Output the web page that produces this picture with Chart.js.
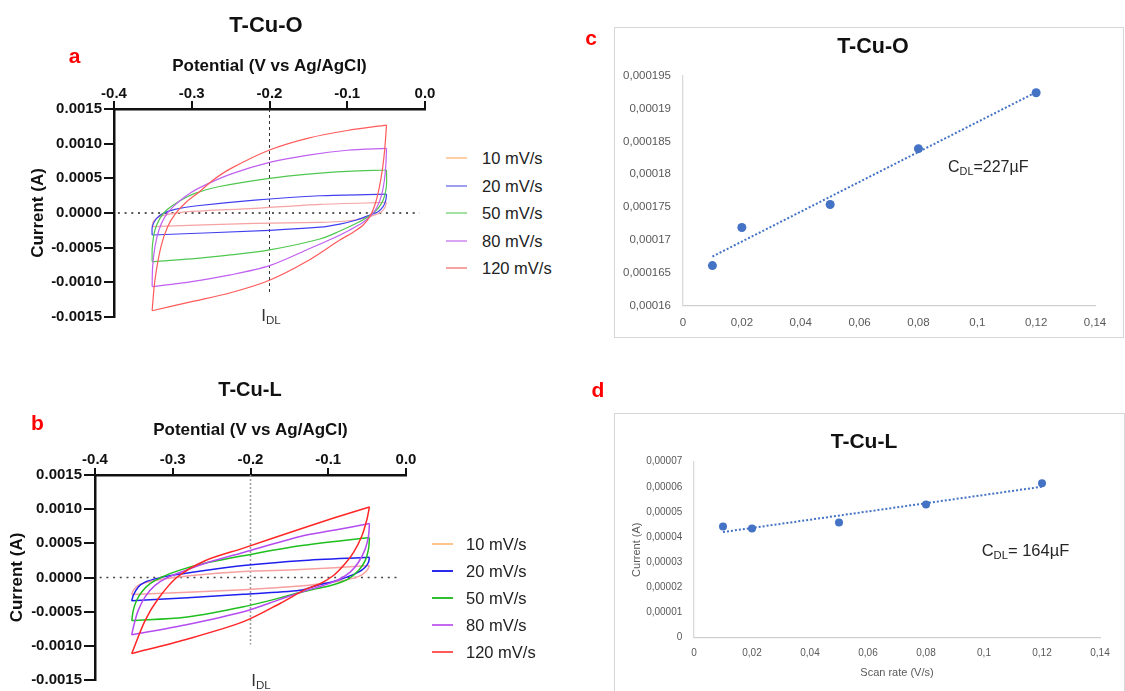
<!DOCTYPE html>
<html>
<head>
<meta charset="utf-8">
<script src="https://cdn.jsdelivr.net/npm/chart.js@4.4.1/dist/chart.umd.min.js"></script>
<style>
  html, body { margin: 0; padding: 0; background: #fff; }
  body { position: relative; width: 1125px; height: 691px; overflow: hidden;
         font-family: 'Liberation Sans', Arial, sans-serif; }
  canvas { position: absolute; display: block; }
  .txt { position: absolute; white-space: nowrap; line-height: 1; transform: translate(-50%, -50%); }
  .title { font-weight: bold; color: #111; }
  .letter { font-weight: bold; color: #f00; font-size: 21px; }
  .frame { position: absolute; border: 1px solid #d6d6d6; box-sizing: border-box; }
  .note { position: absolute; white-space: nowrap; line-height: 1; transform: translateY(-50%); color: #262626; }
  .idl { color: #333; font-size: 17px; }
  sub { font-size: 0.68em; vertical-align: -0.3em; line-height: 0; }
  .key { position: absolute; height: 0; }
  .key i { position: absolute; left: 0; top: -1px; width: 21px; height: 2px; }
  .key span { position: absolute; top: 0; transform: translateY(-50%); font-size: 16.5px; color: #222; white-space: nowrap; line-height: 1; }
</style>
</head>
<body>
<div class="frame" style="left:614px;top:27px;width:510px;height:311px"></div>
<div class="frame" style="left:614px;top:413px;width:511px;height:290px"></div>

<canvas id="cv-o" width="440" height="340" style="left:0;top:0"></canvas>
<canvas id="cv-l" width="440" height="321" style="left:0;top:370px"></canvas>
<canvas id="rate-o" width="510" height="311" style="left:614px;top:27px"></canvas>
<canvas id="rate-l" width="511" height="277" style="left:614px;top:414px"></canvas>

<div class="txt title" style="left:266px;top:25px;font-size:22px">T-Cu-O</div>
<div class="txt letter" style="left:74.5px;top:55px">a</div>
<div class="txt title" style="left:250px;top:389px;font-size:20px">T-Cu-L</div>
<div class="txt letter" style="left:37.5px;top:421.5px">b</div>
<div class="txt title" style="left:873px;top:47px;font-size:21.5px">T-Cu-O</div>
<div class="txt letter" style="left:591px;top:37px">c</div>
<div class="txt title" style="left:864px;top:440px;font-size:21px">T-Cu-L</div>
<div class="txt letter" style="left:598px;top:389px">d</div>
<div class="txt idl" style="left:271px;top:315px">I<sub>DL</sub></div>
<div class="txt idl" style="left:261px;top:680px">I<sub>DL</sub></div>

<script>
// Scan rates shown in both CV legends
const scanRates = ['10 mV/s', '20 mV/s', '50 mV/s', '80 mV/s', '120 mV/s'];

// T-Cu-O cyclic voltammograms, [potential V, current A]:
// anodic sweep from -0.35 V up to -0.05 V, then the cathodic sweep back.
const cuOLoop10 = [
  [-0.351, -0.000197], [-0.3495, -0.000125], [-0.3431, -0.000062], [-0.3302, -0.000019], [-0.3045, 0.000019],
  [-0.2188, 0.000067], [-0.135, 0.000125], [-0.0495, 0.000152],
  [-0.0517, 0.000077], [-0.0559, 0.000019], [-0.0645, -0.000029], [-0.0795, -0.000077], [-0.1009, -0.000115],
  [-0.1352, -0.000135], [-0.2188, -0.00015], [-0.351, -0.000197],
];
const cuOLoop20 = [
  [-0.351, -0.000317], [-0.3507, -0.000197], [-0.3452, -0.000077], [-0.3366, -0.000005], [-0.3216, 0.000053],
  [-0.2959, 0.000101], [-0.2188, 0.000187], [-0.135, 0.000249], [-0.0495, 0.000272],
  [-0.0504, 0.000187], [-0.0539, 0.000091], [-0.0603, 0.000019], [-0.071, -0.000029], [-0.0881, -0.000101],
  [-0.1095, -0.00016], [-0.135, -0.000205], [-0.2, -0.00025], [-0.351, -0.000317],
];
const cuOLoop50 = [
  [-0.351, -0.000701], [-0.3507, -0.000486], [-0.3473, -0.000245], [-0.3409, -0.000077], [-0.3323, 0.000043],
  [-0.3173, 0.000163], [-0.2959, 0.000283], [-0.2659, 0.000379], [-0.2, 0.0005], [-0.15, 0.000562],
  [-0.1, 0.0006], [-0.0495, 0.00062],
  [-0.0495, 0.000403], [-0.0517, 0.000259], [-0.0559, 0.000139], [-0.0623, 0.000043], [-0.0731, -0.000053],
  [-0.0881, -0.000149], [-0.1095, -0.00026], [-0.1352, -0.000375], [-0.2, -0.000533], [-0.25, -0.000605],
  [-0.3, -0.000663], [-0.351, -0.000701],
];
const cuOLoop80 = [
  [-0.351, -0.001061], [-0.3503, -0.000773], [-0.3473, -0.000486], [-0.3422, -0.000245], [-0.3344, -0.000053],
  [-0.3238, 0.000091], [-0.3087, 0.000235], [-0.2916, 0.000355], [-0.25, 0.00056], [-0.2, 0.00073],
  [-0.15, 0.000836], [-0.1, 0.000905], [-0.0495, 0.000932],
  [-0.0504, 0.000692], [-0.0525, 0.000451], [-0.0559, 0.000259], [-0.0615, 0.000091], [-0.0688, -0.000029],
  [-0.0795, -0.000134], [-0.0967, -0.000245], [-0.1181, -0.000365], [-0.1524, -0.000533], [-0.2, -0.000759],
  [-0.25, -0.000893], [-0.3, -0.000989], [-0.351, -0.001061],
];
const cuOLoop120 = [
  [-0.351, -0.00141], [-0.3473, -0.000965], [-0.3396, -0.000486], [-0.331, -0.000197], [-0.3207, -0.000005],
  [-0.3066, 0.000163], [-0.2916, 0.000293], [-0.2724, 0.000476], [-0.25, 0.00064], [-0.2, 0.000908],
  [-0.15, 0.00108], [-0.1, 0.00119], [-0.0495, 0.001268],
  [-0.0517, 0.000932], [-0.0546, 0.000644], [-0.059, 0.000356], [-0.0645, 0.000115], [-0.071, -0.000053],
  [-0.0795, -0.000173], [-0.0924, -0.000278], [-0.1095, -0.00039], [-0.1524, -0.000701], [-0.2, -0.00097],
  [-0.25, -0.00115], [-0.3, -0.001278], [-0.351, -0.00141],
];

// T-Cu-L cyclic voltammograms, same sweep order
const cuLLoop10 = [
  [-0.3528, -0.00025], [-0.3507, -0.000188], [-0.3443, -0.000116], [-0.3314, -0.000067], [-0.3099, -0.000019],
  [-0.2756, 0.000029], [-0.2091, 0.000087], [-0.136, 0.000116], [-0.047, 0.000174],
  [-0.0503, 0.000101], [-0.0568, 0.000039], [-0.0675, -0.000009], [-0.0847, -0.000052], [-0.1104, -0.000091],
  [-0.1362, -0.000125], [-0.209, -0.000178], [-0.3528, -0.00025],
];
const cuLLoop20 = [
  [-0.3528, -0.000342], [-0.3507, -0.00026], [-0.3443, -0.000139], [-0.3356, -0.000067], [-0.3185, -0.000009],
  [-0.297, 0.000039], [-0.2542, 0.000111], [-0.2091, 0.000174], [-0.136, 0.000246], [-0.047, 0.000295],
  [-0.0482, 0.000223], [-0.0525, 0.00015], [-0.0611, 0.000078], [-0.0761, 0.000006], [-0.0933, -0.000058],
  [-0.1147, -0.000116], [-0.1362, -0.000188], [-0.209, -0.000246], [-0.3528, -0.000342],
];
const cuLLoop50 = [
  [-0.3528, -0.000631], [-0.3507, -0.000477], [-0.3464, -0.000333], [-0.3399, -0.000212], [-0.3292, -0.000091],
  [-0.3142, 0.000006], [-0.2928, 0.000101], [-0.2627, 0.000198], [-0.2091, 0.000318], [-0.136, 0.000463],
  [-0.047, 0.000584],
  [-0.0482, 0.000415], [-0.0525, 0.000246], [-0.0611, 0.000101], [-0.074, -0.000019], [-0.0933, -0.000106],
  [-0.1147, -0.000163], [-0.1362, -0.000221], [-0.209, -0.000429], [-0.2842, -0.000583], [-0.3528, -0.000631],
];
const cuLLoop80 = [
  [-0.3528, -0.000839], [-0.3494, -0.00067], [-0.3443, -0.000477], [-0.3356, -0.000284], [-0.3228, -0.000116],
  [-0.3057, 0.000006], [-0.2842, 0.000101], [-0.2542, 0.000222], [-0.2091, 0.000367], [-0.136, 0.0006],
  [-0.093, 0.00069], [-0.047, 0.000791],
  [-0.0482, 0.000608], [-0.0525, 0.000415], [-0.0611, 0.000223], [-0.0718, 0.000078], [-0.0869, -0.000033],
  [-0.1062, -0.000116], [-0.1275, -0.000188], [-0.162, -0.00032], [-0.209, -0.000501], [-0.2842, -0.000694],
  [-0.3528, -0.000839],
];
const cuLLoop120 = [
  [-0.3528, -0.001114], [-0.3356, -0.000631], [-0.3185, -0.000308], [-0.2949, 0.0], [-0.2584, 0.000246],
  [-0.2091, 0.00043], [-0.136, 0.00071], [-0.093, 0.00087], [-0.047, 0.001033],
  [-0.0503, 0.000849], [-0.0568, 0.000608], [-0.0675, 0.000367], [-0.0804, 0.000174], [-0.0933, 0.000029],
  [-0.1104, -0.000091], [-0.1275, -0.000163], [-0.162, -0.00038], [-0.209, -0.000646], [-0.2842, -0.000911],
  [-0.3528, -0.001114],
];

const cuOLoops = [cuOLoop10, cuOLoop20, cuOLoop50, cuOLoop80, cuOLoop120];
const cuLLoops = [cuLLoop10, cuLLoop20, cuLLoop50, cuLLoop80, cuLLoop120];

// Guide lines: zero current and the potential where I_DL is read
const cuOZeroLine = [[-0.395, 0], [-0.007, 0]];
const cuOIdlLine = [[-0.2, 0.0015], [-0.2, -0.00118]];
const cuLZeroLine = [[-0.394, 0], [-0.0075, 0]];
const cuLIdlLine = [[-0.2, 0.0015], [-0.2, -0.00098]];

// I_DL against scan rate
const scanRateVs = [0.01, 0.02, 0.05, 0.08, 0.12];
const cuOCurrent = [0.0001661, 0.0001719, 0.0001754, 0.0001839, 0.0001924];
const cuLCurrent = [0.0000442, 0.0000434, 0.0000458, 0.000053, 0.0000614];

// Line colours
const cuOColors = ['#f5a3a3', '#4040f0', '#50c850', '#c060f0', '#ff5a5a'];
const cuLColors = ['#f7a0a0', '#1f1fef', '#1fbf1f', '#b44cf0', '#ff2626'];
const cuOKeyColors = ['#fdcfa6', '#9d9df3', '#a3e0a3', '#dba3f3', '#f6a3a3'];
const cuLKeyColors = ['#ffc38e', '#2b2bea', '#2fbe2f', '#c36af0', '#ff5a5a'];
const fitColor = '#4472c4';

Chart.defaults.font.family = "'Liberation Sans', Arial, sans-serif";

const toXY = (pts) => pts.map(([x, y]) => ({ x, y }));

/**
 * Splits each loop at its most positive potential so the two sweeps keep
 * their sharp turning corners, then returns one line dataset per sweep.
 */
function loopDatasets(loops, colors, width) {
  const sets = [];
  // last scan rate first so the widest loop is painted on top
  for (let i = loops.length - 1; i >= 0; i--) {
    const loop = loops[i];
    let turn = 0;
    loop.forEach((p, j) => { if (p[0] > loop[turn][0]) turn = j; });
    [loop.slice(0, turn + 1), loop.slice(turn)].forEach((sweep) => {
      sets.push({
        data: toXY(sweep),
        showLine: true,
        borderColor: colors[i],
        borderWidth: width,
        pointRadius: 0,
        tension: 0.3,
        fill: false,
      });
    });
  }
  return sets;
}

function guideDataset(pts, color, width, dash) {
  return {
    data: toXY(pts), showLine: true, borderColor: color, borderWidth: width,
    borderDash: dash, pointRadius: 0, tension: 0, fill: false,
  };
}

/** Options for a GraphPad-style CV panel with the potential axis on top. */
function cvOptions(box) {
  const dark = '#111';
  return {
    responsive: false,
    animation: false,
    events: [],
    layout: { padding: { left: 0, top: 0, right: box.padRight, bottom: box.padBottom } },
    plugins: { legend: { display: false }, tooltip: { enabled: false } },
    scales: {
      x: {
        type: 'linear',
        position: 'top',
        min: -0.4,
        max: 0,
        ticks: {
          stepSize: 0.1, color: dark, padding: box.xTickPad, maxRotation: 0,
          font: { size: 15, weight: 'bold' },
          callback: (v) => v.toFixed(1),
        },
        grid: { drawOnChartArea: false, drawTicks: true, tickLength: box.xTickLen, color: dark, lineWidth: 2 },
        border: { color: dark, width: 2.5 },
        title: {
          display: true, text: 'Potential (V vs Ag/AgCl)', color: dark,
          font: { size: 17, weight: 'bold' }, padding: { top: box.xTitlePad, bottom: 0 },
        },
        afterFit: (s) => { s.height = box.top; },
      },
      y: {
        type: 'linear',
        position: 'left',
        min: -0.0015,
        max: 0.0015,
        ticks: {
          stepSize: 0.0005, color: dark, padding: box.yTickPad,
          font: { size: 15, weight: 'bold' },
          callback: (v) => v.toFixed(4),
        },
        grid: { drawOnChartArea: false, drawTicks: true, tickLength: box.yTickLen, color: dark, lineWidth: 2 },
        border: { color: dark, width: 2.5 },
        title: {
          display: true, text: 'Current (A)', color: dark,
          font: { size: 17, weight: 'bold' }, padding: { top: box.yTitlePad, bottom: 0 },
        },
        afterFit: (s) => { s.width = box.left; },
      },
    },
  };
}

/** Decimal comma, as the spreadsheet printed it. */
function commaNumber(v) {
  return String(parseFloat(v.toPrecision(6))).replace('.', ',');
}

function leastSquares(xs, ys) {
  const n = xs.length;
  const mx = xs.reduce((s, v) => s + v, 0) / n;
  const my = ys.reduce((s, v) => s + v, 0) / n;
  let sxy = 0;
  let sxx = 0;
  xs.forEach((x, i) => {
    sxy += (x - mx) * (ys[i] - my);
    sxx += (x - mx) * (x - mx);
  });
  const slope = sxy / sxx;
  return { slope, intercept: my - slope * mx };
}

/** Spreadsheet-style scatter with a dotted linear trendline. */
function drawRateChart(canvasId, currents, box) {
  const fit = leastSquares(scanRateVs, currents);
  const ends = [scanRateVs[0], scanRateVs[scanRateVs.length - 1]];
  const grey = '#595959';
  const axisTitle = (text, pad) => ({
    display: !!text, text: text || '', color: grey, font: { size: 11 }, padding: pad,
  });
  new Chart(document.getElementById(canvasId), {
    type: 'scatter',
    data: {
      datasets: [
        {
          data: scanRateVs.map((x, i) => ({ x, y: currents[i] })),
          backgroundColor: fitColor, borderColor: fitColor, pointRadius: box.dot, pointBorderWidth: 0,
        },
        {
          data: ends.map((x) => ({ x, y: fit.intercept + fit.slope * x })),
          showLine: true, borderColor: fitColor, borderWidth: 2, borderDash: [2, 2],
          pointRadius: 0, fill: false,
        },
      ],
    },
    options: {
      responsive: false,
      animation: false,
      events: [],
      layout: { padding: { left: 0, top: box.padTop, right: box.padRight, bottom: 0 } },
      plugins: { legend: { display: false }, tooltip: { enabled: false } },
      scales: {
        x: {
          type: 'linear', min: 0, max: 0.14,
          ticks: { stepSize: 0.02, color: grey, font: { size: box.tickSize }, padding: box.xTickPad, maxRotation: 0, callback: commaNumber },
          grid: { display: false, drawTicks: false, tickLength: 0 },
          border: { color: '#d0d0d0', width: 1.3 },
          title: axisTitle(box.xTitle, { top: 0, bottom: box.xTitlePad }),
          afterFit: (s) => { s.height = box.bottom; },
        },
        y: {
          type: 'linear', min: box.yMin, max: box.yMax,
          ticks: { stepSize: box.yStep, color: grey, font: { size: box.tickSize }, padding: box.yTickPad, callback: commaNumber },
          grid: { display: false, drawTicks: false, tickLength: 0 },
          border: { color: '#d9d9d9', width: 1.3 },
          title: axisTitle(box.yTitle, { top: box.yTitlePad, bottom: 0 }),
          afterFit: (s) => { s.width = box.left; },
        },
      },
    },
  });
  return fit;
}

function addKey(colors, left, textLeft, top, gap) {
  scanRates.forEach((label, i) => {
    const row = document.createElement('div');
    row.className = 'key';
    row.style.left = left + 'px';
    row.style.top = (top + i * gap) + 'px';
    row.innerHTML = `<i style="background:${colors[i]}"></i><span style="left:${textLeft - left}px">${label}</span>`;
    document.body.appendChild(row);
  });
}

function addCapacitance(fit, left, top, size) {
  const el = document.createElement('div');
  el.className = 'note';
  el.style.cssText = `left:${left}px;top:${top}px;font-size:${size}px`;
  el.innerHTML = `C<sub>DL</sub>${size > 16 ? '= ' : '='}${Math.round(fit.slope * 1e6)}µF`;
  document.body.appendChild(el);
}

// ── Panel a: T-Cu-O CVs ────────────────────────────────────────────────
new Chart(document.getElementById('cv-o'), {
  type: 'scatter',
  data: {
    datasets: loopDatasets(cuOLoops, cuOColors, 1.2).concat([
      guideDataset(cuOZeroLine, '#222', 1.6, [2, 4.7]),
      guideDataset(cuOIdlLine, '#333', 1, [3, 3]),
    ]),
  },
  options: cvOptions({
    left: 114, top: 109, padRight: 15, padBottom: 23,
    xTickLen: 8, xTickPad: -2.3, yTickLen: 10, yTickPad: 2,
    xTitlePad: 55.8, yTitlePad: 27.8,
  }),
});
addKey(cuOKeyColors, 446, 482, 158, 27.5);

// ── Panel b: T-Cu-L CVs ────────────────────────────────────────────────
new Chart(document.getElementById('cv-l'), {
  type: 'scatter',
  data: {
    datasets: loopDatasets(cuLLoops, cuLColors, 1.5).concat([
      guideDataset(cuLZeroLine, '#444', 1.6, [2, 4.7]),
      guideDataset(cuLIdlLine, '#999', 1.5, [2, 2]),
    ]),
  },
  options: cvOptions({
    left: 95, top: 105, padRight: 34, padBottom: 9,
    xTickLen: 7, xTickPad: -1, yTickLen: 11, yTickPad: 2,
    xTitlePad: 50.5, yTitlePad: 6.8,
  }),
});
addKey(cuLKeyColors, 432, 466, 544, 27);

// ── Panels c and d: I_DL vs scan rate ──────────────────────────────────
const fitO = drawRateChart('rate-o', cuOCurrent, {
  left: 69, padTop: 48.7, padRight: 29, bottom: 32.3,
  yMin: 0.00016, yMax: 0.000195, yStep: 0.000005,
  tickSize: 11.5, xTickPad: 10.7, yTickPad: 12, dot: 4.5,
});
addCapacitance(fitO, 948, 167, 16);

const fitL = drawRateChart('rate-l', cuLCurrent, {
  left: 80, padTop: 47.7, padRight: 25, bottom: 53.3,
  yMin: 0, yMax: 0.00007, yStep: 0.00001,
  tickSize: 10, xTickPad: 9.3, yTickPad: 11.7, dot: 4,
  xTitle: 'Scan rate (V/s)', xTitlePad: 11.7,
  yTitle: 'Current (A)', yTitlePad: 16.1,
});
addCapacitance(fitL, 981.7, 550, 16.5);
</script>
</body>
</html>
